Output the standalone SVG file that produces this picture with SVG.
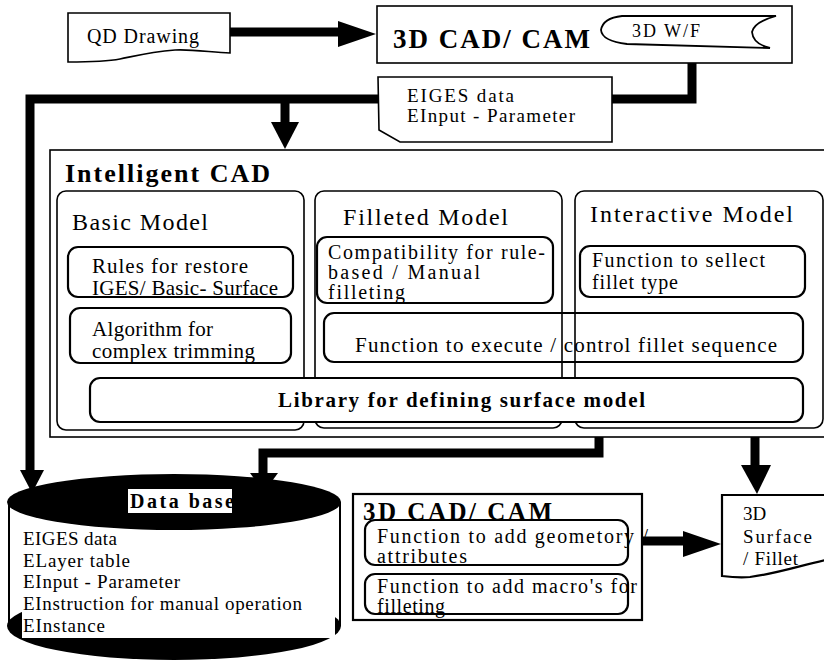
<svg xmlns="http://www.w3.org/2000/svg" width="824" height="660" viewBox="0 0 824 660">
<style>
text{font-family:"Liberation Serif","Times New Roman",serif;fill:#000}
.t{font-size:21px}
.n{font-size:20px}
.s{font-size:19px}
.h{font-size:24px}
.b{font-weight:bold}
.box{fill:#fff;stroke:#000;stroke-width:1.6}
.ibox{fill:#fff;stroke:#000;stroke-width:2.2}
.nofill{fill:none;stroke:#000;stroke-width:2.2}
.thick{fill:none;stroke:#000;stroke-width:9;stroke-linejoin:miter;stroke-linecap:butt}
.head{fill:#000;stroke:none}
</style>
<rect width="824" height="660" fill="#fff"/>

<g id="connectors">
  <polyline class="thick" points="218,32 340,32"/>
  <polygon class="head" points="338,21 376,34 338,47"/>
  <polyline class="thick" points="692,62 692,99 612,99"/>
  <polyline class="thick" points="378,99 30,99 30,474"/>
  <polygon class="head" points="20,470 44,470 32,493"/>
  <polyline class="thick" points="285,99 285,124"/>
  <polygon class="head" points="271,122 299,122 285,149"/>
  <polyline class="thick" points="599,421 599,453 263,453 263,476"/>
  <polygon class="head" points="250,473 278,473 264,492"/>
  <polyline class="thick" points="755,421 755,467"/>
  <polygon class="head" points="741,465 771,465 757,494"/>
  <polyline class="thick" points="637,541 686,541"/>
  <polygon class="head" points="683,531 721,544 683,557"/>
</g>

<g id="qd-drawing">
  <path class="box" d="M68,13 H230 V53 C210,52 190,49 175,50 C150,52 135,56 120,59 C105,62 90,62 68,62 Z"/>
  <text x="87" y="43" font-size="20" textLength="112" lengthAdjust="spacing">QD Drawing</text>
</g>

<g id="cad-cam-top">
  <rect class="box" x="377" y="6" width="415" height="57"/>
  <text class="b" x="393" y="48" font-size="27" textLength="197" lengthAdjust="spacing">3D CAD/ CAM</text>
  <path fill="#fff" stroke="#000" stroke-width="1.8" d="M622,16 L776,16 Q754,22 752,32 Q753,44 770,48 L627,44 Q602,41 601,30 Q603,18 622,16 Z"/>
  <text x="632" y="37" font-size="18" textLength="68" lengthAdjust="spacing">3D W/F</text>
</g>

<g id="iges-data">
  <path class="box" d="M378,77 H612 V142 H400 L379,130 Z"/>
  <text class="s" x="407" y="102" textLength="107" lengthAdjust="spacing">EIGES data</text>
  <text class="s" x="407" y="122" textLength="168" lengthAdjust="spacing">EInput - Parameter</text>
</g>

<g id="intelligent-cad">
  <rect class="box" x="50" y="150" width="800" height="287"/>
  <text class="b" x="65" y="182" font-size="26" textLength="205" lengthAdjust="spacing">Intelligent CAD</text>
</g>

<g id="basic-model">
  <rect class="box" x="57" y="191" width="247" height="239" rx="9"/>
  <text class="h" x="72" y="230" textLength="136" lengthAdjust="spacing">Basic Model</text>
</g>
<g id="filleted-model">
  <rect class="box" x="315" y="191" width="247" height="237" rx="9"/>
  <text class="h" x="343" y="225" textLength="165" lengthAdjust="spacing">Filleted Model</text>
</g>
<g id="interactive-model">
  <rect class="box" x="575" y="191" width="248" height="237" rx="9"/>
  <text class="h" x="590" y="222" textLength="203" lengthAdjust="spacing">Interactive Model</text>
</g>

<g id="rules-restore">
  <rect class="ibox" x="68" y="247" width="225" height="50" rx="10"/>
  <text class="t" x="92" y="273" textLength="156" lengthAdjust="spacing">Rules for restore</text>
  <text class="t" x="92" y="295" textLength="186" lengthAdjust="spacing">IGES/ Basic- Surface</text>
</g>
<g id="algorithm-trimming">
  <rect class="ibox" x="70" y="308" width="221" height="55" rx="10"/>
  <text class="t" x="92" y="336" textLength="121" lengthAdjust="spacing">Algorithm for</text>
  <text class="t" x="92" y="358" textLength="163" lengthAdjust="spacing">complex trimming</text>
</g>
<g id="compatibility">
  <rect class="ibox" x="317" y="237" width="236" height="66" rx="10"/>
  <text class="n" x="328" y="259" textLength="217" lengthAdjust="spacing">Compatibility for rule-</text>
  <text class="n" x="328" y="279" textLength="152" lengthAdjust="spacing">based / Manual</text>
  <text class="n" x="328" y="299" textLength="77" lengthAdjust="spacing">filleting</text>
</g>
<g id="select-fillet">
  <rect class="ibox" x="580" y="246" width="225" height="51" rx="10"/>
  <text class="n" x="592" y="267" textLength="173" lengthAdjust="spacing">Function to sellect</text>
  <text class="n" x="592" y="289" textLength="86" lengthAdjust="spacing">fillet type</text>
</g>
<g id="execute-sequence">
  <rect class="nofill" x="324" y="313" width="479" height="49" rx="10"/>
  <text class="t" x="355" y="352" textLength="422" lengthAdjust="spacing">Function to execute /  control fillet sequence</text>
</g>
<g id="library">
  <rect class="ibox" x="90" y="378" width="713" height="44" rx="10"/>
  <text class="b" x="278" y="407" font-size="21" textLength="367" lengthAdjust="spacing">Library for defining surface model</text>
</g>

<g id="database">
  <rect x="8" y="502" width="333" height="124" fill="#fff"/>
  <ellipse cx="174" cy="626" rx="167" ry="34" fill="#000"/>
  <line x1="9" y1="502" x2="9" y2="626" stroke="#000" stroke-width="2"/>
  <line x1="340" y1="502" x2="340" y2="626" stroke="#000" stroke-width="2"/>
  <rect x="22" y="530" width="313" height="108" fill="#fff"/>
  <ellipse cx="174" cy="502" rx="167" ry="28" fill="#000"/>
  <rect x="128" y="489" width="104" height="24" fill="#fff"/>
  <text class="b" x="130" y="508" font-size="20" textLength="104" lengthAdjust="spacing">Data base</text>
  <text class="s" x="23" y="545" textLength="94" lengthAdjust="spacing">EIGES data</text>
  <text class="s" x="23" y="567" textLength="107" lengthAdjust="spacing">ELayer table</text>
  <text class="s" x="23" y="588" textLength="157" lengthAdjust="spacing">EInput - Parameter</text>
  <text class="s" x="23" y="610" textLength="279" lengthAdjust="spacing">EInstruction for manual operation</text>
  <text class="s" x="23" y="632" textLength="82" lengthAdjust="spacing">EInstance</text>
</g>

<g id="cad-cam-bottom">
  <rect class="ibox" x="353" y="494" width="289" height="126"/>
  <text class="b" x="363" y="520" font-size="25" textLength="189" lengthAdjust="spacing">3D CAD/ CAM</text>
  <rect class="nofill" x="365" y="520" width="263" height="45" rx="10"/>
  <text class="n" x="377" y="543" textLength="271" lengthAdjust="spacing">Function to add geometory /</text>
  <text class="n" x="377" y="563" textLength="90" lengthAdjust="spacing">attributes</text>
  <rect class="nofill" x="365" y="574" width="263" height="40" rx="10"/>
  <text class="n" x="377" y="593" textLength="260" lengthAdjust="spacing">Function to add macro's for</text>
  <text class="n" x="377" y="613" textLength="68" lengthAdjust="spacing">filleting</text>
</g>

<g id="surface-fillet">
  <path class="ibox" d="M722,495 H830 V559 C805,564 780,573 750,577 C740,578 730,577 722,576 Z"/>
  <text class="s" x="743" y="520">3D</text>
  <text class="s" x="743" y="543" textLength="69" lengthAdjust="spacing">Surface</text>
  <text class="s" x="743" y="565" textLength="55" lengthAdjust="spacing">/ Fillet</text>
</g>
</svg>
